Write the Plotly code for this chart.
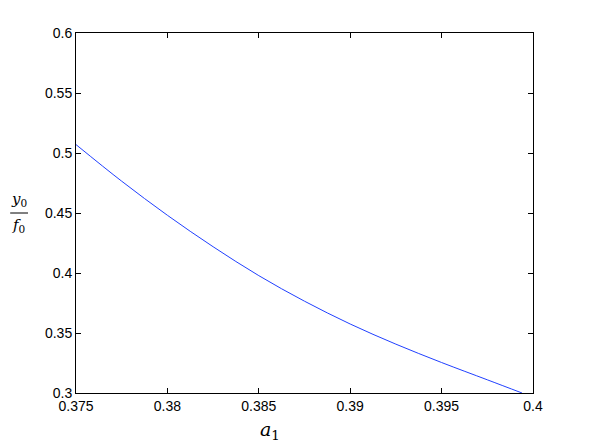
import plotly.graph_objects as go

# values
a1 = [0.375, 0.3775, 0.38, 0.3825, 0.385, 0.3875, 0.39, 0.3925, 0.395, 0.3975, 0.3994]
y0_over_f0 = [0.507, 0.4765, 0.4481, 0.4219, 0.3978, 0.3765, 0.3575, 0.3407, 0.3254, 0.3110, 0.300]

x_ticks = [0.375, 0.38, 0.385, 0.39, 0.395, 0.4]
x_labels = ["0.375", "0.38", "0.385", "0.39", "0.395", "0.4"]
y_ticks = [0.3, 0.35, 0.4, 0.45, 0.5, 0.55, 0.6]
y_labels = ["0.3", "0.35", "0.4", "0.45", "0.5", "0.55", "0.6"]

fig = go.Figure()
fig.add_trace(go.Scatter(
    x=a1, y=y0_over_f0, mode="lines",
    line=dict(color="#2040ff", width=1, shape="spline"),
    showlegend=False,
))

axis_style = dict(
    showline=True, linecolor="black", linewidth=1, mirror="ticks",
    ticks="inside", ticklen=5, tickcolor="black", showgrid=False, zeroline=False,
    tickfont=dict(family="Liberation Sans, Arial", size=14, color="black"),
)

fig.update_xaxes(range=[0.375, 0.4], tickvals=x_ticks, ticktext=x_labels, **axis_style)
fig.update_yaxes(range=[0.3, 0.6], tickvals=y_ticks, ticktext=y_labels, **axis_style)

label_font = dict(family="DejaVu Serif, Times New Roman, serif", size=15, color="black")

# x label a_1
fig.add_annotation(text="<i>a</i><sub>1</sub>", xref="paper", yref="paper",
                   x=0.425, y=-0.105, xanchor="center", yanchor="middle",
                   showarrow=False, font=dict(family=label_font["family"], size=19, color="black"))

# y label as a stacked fraction y0 / f0
fig.add_annotation(text="<i>y</i><sub>0</sub>", xref="paper", yref="paper",
                   x=-0.125, y=0.505, xanchor="center", yanchor="bottom",
                   showarrow=False, font=label_font)
fig.add_annotation(text="<i>f</i><sub>0</sub>", xref="paper", yref="paper",
                   x=-0.125, y=0.497, xanchor="center", yanchor="top",
                   showarrow=False, font=label_font)
fig.add_shape(type="line", xref="paper", yref="paper",
              x0=-0.144, x1=-0.105, y0=0.5, y1=0.5,
              line=dict(color="black", width=1))

# the page body has an 8px margin, so the margins are shifted to land the axes where the reference has them
fig.update_layout(
    width=589, height=443,
    margin=dict(l=68, r=64, t=25, b=58),
    plot_bgcolor="white", paper_bgcolor="white",
)

fig.write_html("out.html")
